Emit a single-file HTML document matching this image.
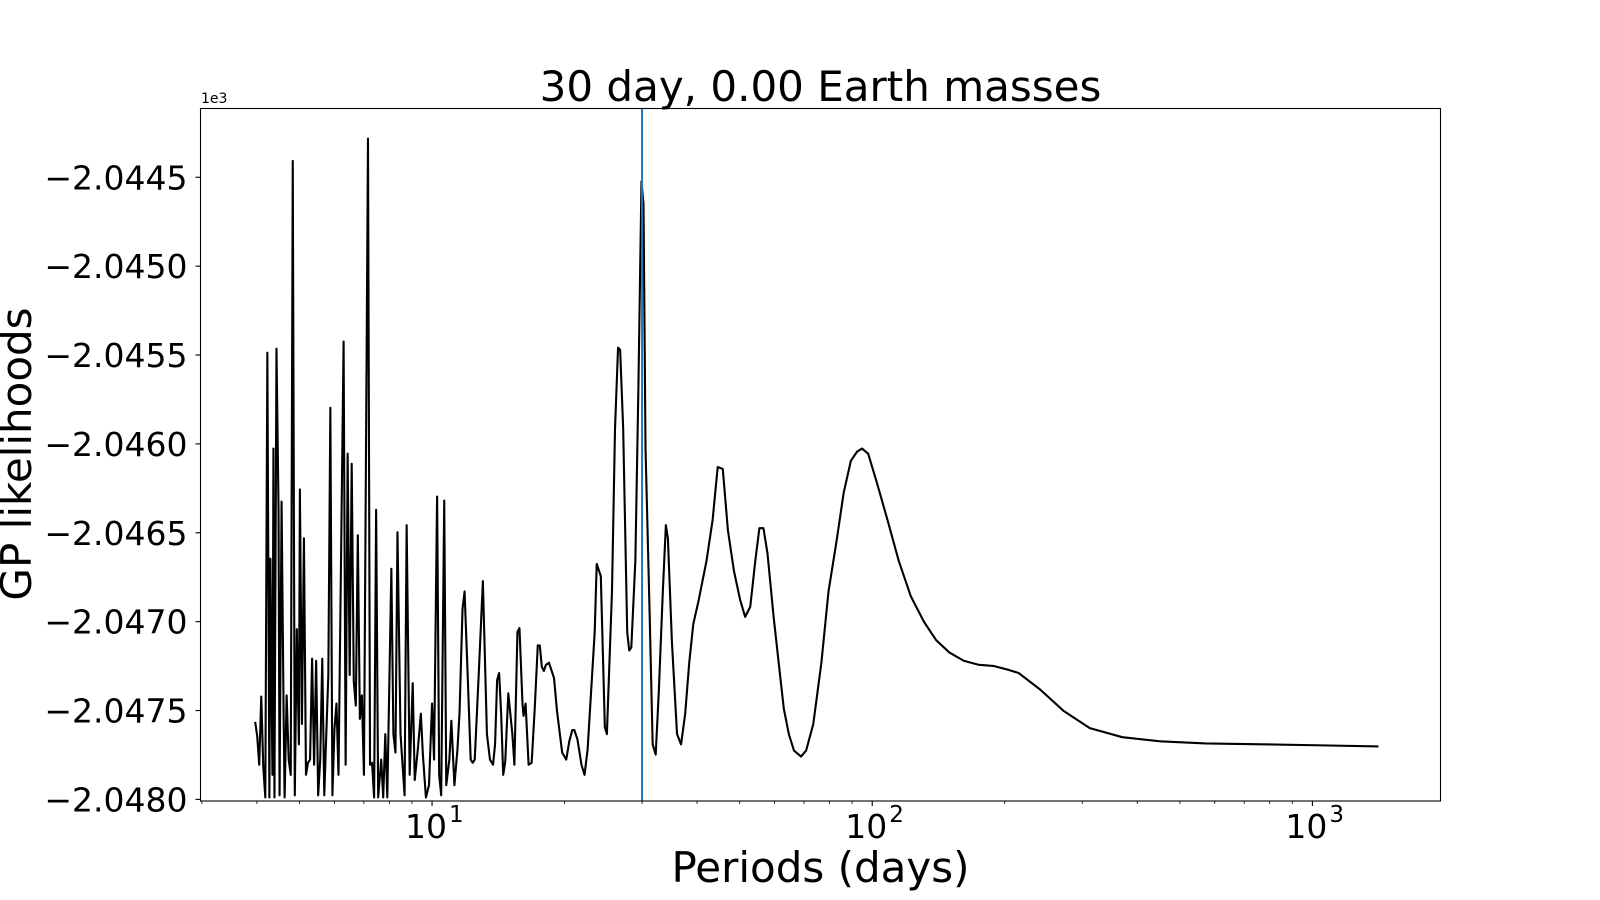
<!DOCTYPE html>
<html><head><meta charset="utf-8">
<style>
html,body{margin:0;padding:0;background:#fff;}
svg{display:block;font-family:"DejaVu Sans","Liberation Sans",sans-serif;}
</style></head>
<body>
<svg id="chart" width="1600" height="900" viewBox="0 0 1600 900" xmlns="http://www.w3.org/2000/svg">
<rect width="1600" height="900" fill="#fff"/>
<text x="820.5" y="101" font-size="42" text-anchor="middle" fill="#000">30 day, 0.00 Earth masses</text>
<text x="820.5" y="882" font-size="42" text-anchor="middle" fill="#000">Periods (days)</text>
<text transform="translate(31,454) rotate(-90)" font-size="42" text-anchor="middle" fill="#000">GP likelihoods</text>
<text x="201" y="103" font-size="14" fill="#000">1e3</text>
<g id="ticks"></g>
<g id="marks"></g>
<rect x="200.5" y="108.5" width="1240" height="692.5" fill="none" stroke="#000" stroke-width="1.1"/>
</svg>
<script>
const logPeriods = [0.5982,0.6028,0.6074,0.6120,0.6166,0.6212,0.6259,0.6305,0.6328,0.6374,0.6397,0.6420,0.6466,0.6513,0.6536,0.6582,0.6628,0.6651,0.6697,0.6744,0.6790,0.6836,0.6882,0.6928,0.6975,0.6998,0.7044,0.7090,0.7136,0.7182,0.7229,0.7275,0.7321,0.7367,0.7413,0.7460,0.7506,0.7552,0.7598,0.7644,0.7690,0.7737,0.7783,0.7829,0.7875,0.7991,0.8037,0.8083,0.8129,0.8175,0.8222,0.8268,0.8314,0.8360,0.8406,0.8453,0.8545,0.8591,0.8637,0.8684,0.8730,0.8776,0.8845,0.8891,0.8938,0.8984,0.9076,0.9122,0.9169,0.9215,0.9284,0.9376,0.9423,0.9492,0.9561,0.9607,0.9677,0.9746,0.9792,0.9861,0.9931,1.0000,1.0046,1.0115,1.0162,1.0208,1.0277,1.0323,1.0393,1.0439,1.0508,1.0577,1.0624,1.0693,1.0739,1.0808,1.0878,1.0924,1.0970,1.1062,1.1155,1.1247,1.1316,1.1386,1.1432,1.1478,1.1524,1.1570,1.1617,1.1663,1.1732,1.1825,1.1871,1.1940,1.1986,1.2055,1.2079,1.2125,1.2194,1.2263,1.2333,1.2402,1.2448,1.2494,1.2540,1.2587,1.2656,1.2771,1.2841,1.2956,1.3049,1.3118,1.3187,1.3233,1.3303,1.3395,1.3464,1.3534,1.3695,1.3741,1.3834,1.3926,1.3972,1.4088,1.4157,1.4226,1.4273,1.4342,1.4434,1.4480,1.4527,1.4619,1.4688,1.4758,1.4804,1.4850,1.4942,1.5012,1.5081,1.5150,1.5243,1.5312,1.5358,1.5450,1.5566,1.5658,1.5751,1.5843,1.5935,1.6051,1.6236,1.6374,1.6490,1.6605,1.6721,1.6859,1.6998,1.7113,1.7229,1.7344,1.7437,1.7529,1.7621,1.7760,1.7875,1.7991,1.8106,1.8222,1.8383,1.8499,1.8661,1.8845,1.9007,1.9192,1.9353,1.9515,1.9654,1.9769,1.9908,2.0116,2.0347,2.0601,2.0878,2.1178,2.1455,2.1755,2.2079,2.2425,2.2748,2.3095,2.3326,2.3811,2.4342,2.4943,2.5682,2.6536,2.7575,2.8845,3.0231,3.1501];
const likelihoods = [-2.047564,-2.047644,-2.047805,-2.047421,-2.047817,-2.047989,-2.045487,-2.047989,-2.046646,-2.047862,-2.046026,-2.047989,-2.045464,-2.046371,-2.047977,-2.046325,-2.047518,-2.047989,-2.047415,-2.047776,-2.047862,-2.044408,-2.047977,-2.047042,-2.047690,-2.046256,-2.047576,-2.046531,-2.047862,-2.047794,-2.047776,-2.047208,-2.047805,-2.047220,-2.047977,-2.047776,-2.047208,-2.047977,-2.047633,-2.047300,-2.045797,-2.047977,-2.047604,-2.047461,-2.047862,-2.045424,-2.047805,-2.046055,-2.047300,-2.046112,-2.047335,-2.047472,-2.046514,-2.047547,-2.047415,-2.047862,-2.044282,-2.047805,-2.047794,-2.047989,-2.046371,-2.047989,-2.047776,-2.047989,-2.047633,-2.047989,-2.046703,-2.047633,-2.047736,-2.046497,-2.047633,-2.047977,-2.046457,-2.047862,-2.047346,-2.047891,-2.047719,-2.047518,-2.047748,-2.047989,-2.047920,-2.047461,-2.047776,-2.046296,-2.047862,-2.047977,-2.046319,-2.047920,-2.047776,-2.047558,-2.047920,-2.047719,-2.047518,-2.046927,-2.046830,-2.047289,-2.047776,-2.047794,-2.047776,-2.047289,-2.046772,-2.047633,-2.047776,-2.047805,-2.047690,-2.047329,-2.047289,-2.047518,-2.047862,-2.047788,-2.047403,-2.047633,-2.047805,-2.047059,-2.047036,-2.047461,-2.047530,-2.047461,-2.047805,-2.047794,-2.047489,-2.047134,-2.047134,-2.047254,-2.047277,-2.047243,-2.047231,-2.047317,-2.047507,-2.047736,-2.047776,-2.047673,-2.047610,-2.047610,-2.047662,-2.047805,-2.047862,-2.047719,-2.047059,-2.046675,-2.046744,-2.047593,-2.047633,-2.046830,-2.045912,-2.045458,-2.045470,-2.045912,-2.047059,-2.047162,-2.047145,-2.046657,-2.045682,-2.044523,-2.044649,-2.046026,-2.046944,-2.047690,-2.047748,-2.047403,-2.046830,-2.046457,-2.046531,-2.047117,-2.047633,-2.047690,-2.047518,-2.047231,-2.047013,-2.046887,-2.046657,-2.046428,-2.046130,-2.046141,-2.046485,-2.046715,-2.046876,-2.046973,-2.046916,-2.046657,-2.046474,-2.046474,-2.046617,-2.046973,-2.047231,-2.047489,-2.047633,-2.047725,-2.047759,-2.047725,-2.047576,-2.047231,-2.046830,-2.046543,-2.046273,-2.046095,-2.046044,-2.046026,-2.046055,-2.046227,-2.046428,-2.046657,-2.046858,-2.047002,-2.047105,-2.047174,-2.047220,-2.047243,-2.047249,-2.047271,-2.047289,-2.047381,-2.047501,-2.047599,-2.047650,-2.047673,-2.047685,-2.047690,-2.047696,-2.047702];
const markerPeriod = 30;
const yTickValues = [-2.0445,-2.0450,-2.0455,-2.0460,-2.0465,-2.0470,-2.0475,-2.0480];
const yTickLabels = ["\u22122.0445","\u22122.0450","\u22122.0455","\u22122.0460","\u22122.0465","\u22122.0470","\u22122.0475","\u22122.0480"];
const xMajorExps = [1,2,3];

const NS = "http://www.w3.org/2000/svg";
const X0 = 200.5, X1 = 1440.5, Y0 = 108.5, Y1 = 801;
const LXMIN = 0.474, LXMAX = 3.291;
const YMIN = -2.048009, YMAX = -2.044113;
function xLog(l){ return X0 + (l - LXMIN) / (LXMAX - LXMIN) * (X1 - X0); }
function xScale(p){ return xLog(Math.log10(p)); }
function yScale(v){ return Y1 - (v - YMIN) / (YMAX - YMIN) * (Y1 - Y0); }
function mk(tag, attrs, parent){
  const e = document.createElementNS(NS, tag);
  for (const k in attrs) e.setAttribute(k, attrs[k]);
  parent.appendChild(e); return e;
}
const ticks = document.getElementById('ticks');
const marks = document.getElementById('marks');

yTickValues.forEach((v, i) => {
  const y = yScale(v);
  const t = mk('line', {x1: X0 - 5, x2: X0, y1: y, y2: y, stroke: '#000', 'stroke-width': 1.1}, ticks);
  
  
  const lb = mk('text', {x: X0 - 13, y: y + 12, 'font-size': 33, 'text-anchor': 'end', fill: '#000'}, ticks);
  lb.textContent = yTickLabels[i];
  
  
});

for (let e = 0; e <= 3; e++) {
  for (let m = 1; m <= 9; m++) {
    const l = e + Math.log10(m);
    if (l < LXMIN || l > LXMAX) continue;
    const x = xLog(l);
    const major = (m === 1);
    const t = mk('line', {x1: x, x2: x, y1: Y1, y2: Y1 + (major ? 5 : 3), stroke: '#000', 'stroke-width': major ? 1.1 : 0.8}, ticks);
    
    
  }
}
xMajorExps.forEach(e => {
  const x = xLog(e);
  const lb = mk('text', {x: x - 6, y: 838, 'font-size': 33, 'text-anchor': 'middle', fill: '#000'}, ticks);
  lb.textContent = '10';
  
  
  const sup = mk('text', {x: x + 17, y: 822, 'font-size': 23, 'text-anchor': 'start', fill: '#000'}, ticks);
  sup.textContent = String(e);
  
  
});

let d = '';
logPeriods.forEach((l, i) => {
  d += (i ? 'L' : 'M') + xLog(l).toFixed(2) + ',' + yScale(likelihoods[i]).toFixed(2);
});
const path = mk('path', {d: d, fill: 'none', stroke: '#000', 'stroke-width': 2.1, 'stroke-linejoin': 'round'}, marks);



const xm = xScale(markerPeriod);
const vline = mk('line', {x1: xm, x2: xm, y1: Y0, y2: Y1, stroke: '#1f77b4', 'stroke-width': 2}, marks);


</script>
</body></html>
